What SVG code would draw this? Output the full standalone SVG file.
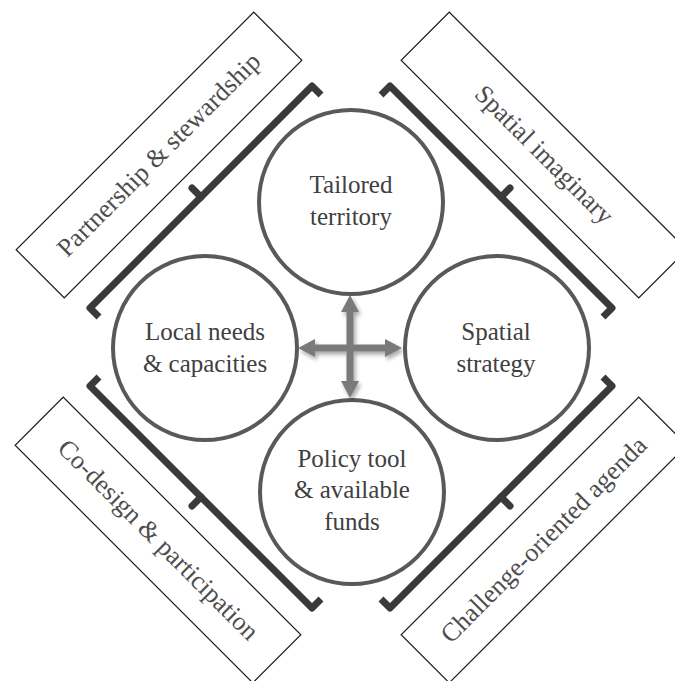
<svg xmlns="http://www.w3.org/2000/svg" width="675" height="681" viewBox="0 0 675 681">
<style>
.bg{fill:#ffffff}
.circ{fill:#ffffff;stroke:#595959;stroke-width:4}
.ctext{font-family:"Liberation Serif","Times New Roman",serif;font-size:25px;fill:#404040;text-anchor:middle}
.box{fill:#ffffff;stroke:#1a1a1a;stroke-width:1.2}
.btext{font-family:"Liberation Serif","Times New Roman",serif;font-size:26px;fill:#4d4d4d;text-anchor:middle}
.brk{fill:none;stroke:#3a3a3a;stroke-width:7;stroke-linejoin:round;stroke-linecap:butt}
.tick{fill:none;stroke:#3a3a3a;stroke-width:7;stroke-linecap:round}
.arr{fill:#7a7a7a}
</style>
<defs>
<filter id="sh" x="-30%" y="-30%" width="160%" height="160%">
<feDropShadow dx="2" dy="3" stdDeviation="2" flood-color="#000000" flood-opacity="0.35"/>
</filter>
</defs>
<rect class="bg" x="0" y="0" width="675" height="681"/>

<g id="box-partnership" transform="translate(159,155) rotate(-45)">
<rect class="box" x="-168" y="-34" width="336" height="68"/>
<text class="btext" x="0" y="8">Partnership &amp; stewardship</text>
</g>
<g id="box-spatial-imaginary" transform="translate(544,155) rotate(45)">
<rect class="box" x="-168" y="-34" width="336" height="68"/>
<text class="btext" x="0" y="8">Spatial imaginary</text>
</g>
<g id="box-codesign" transform="translate(158,540) rotate(45)">
<rect class="box" x="-168" y="-34" width="336" height="68"/>
<text class="btext" x="0" y="8">Co-design &amp; participation</text>
</g>
<g id="box-challenge" transform="translate(544,540) rotate(-45)">
<rect class="box" x="-168" y="-34" width="336" height="68"/>
<text class="btext" x="0" y="8">Challenge-oriented agenda</text>
</g>

<g id="brackets">
<path class="brk" d="M321,95 L312,86 L90,308 L99,317"/>
<path class="tick" d="M201,197 L192,188"/>
<path class="brk" d="M381,95 L390,86 L612,308 L603,317"/>
<path class="tick" d="M501,197 L510,188"/>
<path class="brk" d="M321,599 L312,608 L90,386 L99,377"/>
<path class="tick" d="M201,497 L192,506"/>
<path class="brk" d="M381,599 L390,608 L612,386 L603,377"/>
<path class="tick" d="M501,497 L510,506"/>
</g>

<g id="node-tailored">
<circle class="circ" cx="351" cy="202" r="92"/>
<text class="ctext" x="351" y="193">Tailored</text>
<text class="ctext" x="351" y="225">territory</text>
</g>
<g id="node-local">
<circle class="circ" cx="205" cy="348" r="92"/>
<text class="ctext" x="205" y="340">Local needs</text>
<text class="ctext" x="205" y="372">&amp; capacities</text>
</g>
<g id="node-spatial-strategy">
<circle class="circ" cx="497" cy="348" r="92"/>
<text class="ctext" x="496" y="340">Spatial</text>
<text class="ctext" x="496" y="372">strategy</text>
</g>
<g id="node-policy">
<circle class="circ" cx="352" cy="492" r="92"/>
<text class="ctext" x="352" y="467">Policy tool</text>
<text class="ctext" x="352" y="498">&amp; available</text>
<text class="ctext" x="352" y="530">funds</text>
</g>

<g id="connectors" filter="url(#sh)">
<polygon class="arr" points="350,295 359,312 353.5,312 353.5,381 359,381 350,398 341,381 346.5,381 346.5,312 341,312"/>
<polygon class="arr" points="298,348 315,339 315,344.5 385,344.5 385,339 402,348 385,357 385,351.5 315,351.5 315,357"/>
</g>
</svg>
